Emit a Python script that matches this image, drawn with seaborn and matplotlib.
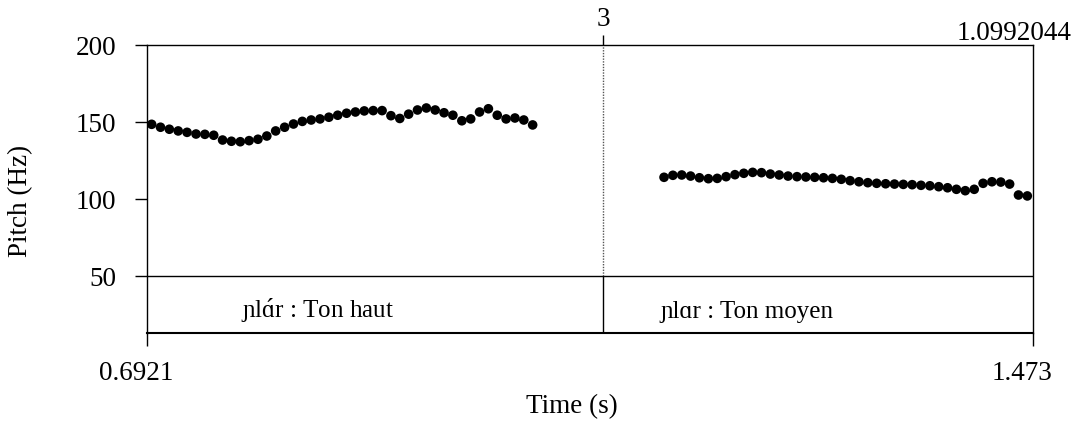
import matplotlib
matplotlib.use("Agg")
import matplotlib.pyplot as plt
import matplotlib.transforms as mtransforms
import numpy as np
import pandas as pd
import seaborn as sns

# ---- data ----
left_time = [0.6962, 0.7040, 0.7118, 0.7196, 0.7274, 0.7353, 0.7431, 0.7509, 0.7587, 0.7665,
             0.7743, 0.7821, 0.7899, 0.7977, 0.8055, 0.8134, 0.8212, 0.8290, 0.8368, 0.8446,
             0.8524, 0.8602, 0.8680, 0.8758, 0.8836, 0.8915, 0.8993, 0.9071, 0.9149, 0.9227,
             0.9305, 0.9383, 0.9461, 0.9539, 0.9617, 0.9696, 0.9774, 0.9852, 0.9930, 1.0008,
             1.0086, 1.0164, 1.0242, 1.0320]
left_pitch = [148.5, 146.6, 145.3, 144.2, 143.3, 142.2, 142.0, 141.4, 138.3, 137.5,
              137.2, 137.9, 138.8, 140.9, 144.2, 146.6, 148.7, 150.4, 151.3, 152.0,
              153.1, 154.4, 155.7, 156.5, 157.2, 157.4, 157.4, 154.1, 152.3, 155.1,
              157.8, 159.1, 157.8, 156.0, 154.4, 150.8, 152.0, 156.5, 158.6, 154.4,
              152.0, 152.6, 151.3, 148.1]
right_time = [1.1478, 1.1556, 1.1634, 1.1712, 1.1790, 1.1869, 1.1947, 1.2025, 1.2103, 1.2181,
              1.2259, 1.2337, 1.2415, 1.2493, 1.2571, 1.2650, 1.2728, 1.2806, 1.2884, 1.2962,
              1.3040, 1.3118, 1.3196, 1.3274, 1.3352, 1.3431, 1.3509, 1.3587, 1.3665, 1.3743,
              1.3821, 1.3899, 1.3977, 1.4055, 1.4133, 1.4212, 1.4290, 1.4368, 1.4446, 1.4524,
              1.4602, 1.4680]
right_pitch = [114.1, 115.4, 115.6, 114.9, 113.8, 113.2, 113.4, 114.5, 115.8, 116.7,
               117.3, 117.1, 116.2, 115.6, 114.9, 114.5, 114.3, 114.1, 113.8, 113.4,
               112.8, 111.9, 111.2, 110.6, 110.2, 109.9, 109.7, 109.5, 109.3, 108.9,
               108.6, 108.0, 107.3, 106.3, 105.4, 106.3, 110.2, 111.2, 111.0, 109.7,
               102.6, 102.0]

x_limits = [0.6921, 1.473]
x_tick_labels = ["0.6921", "1.473"]
y_ticks = [50, 100, 150, 200]
tier_floor = 50
boundary_time = 1.094
boundary_label = "3"
corner_label = "1.0992044"
tier_labels = ["ɲl$\\acute{\\mathrm{ɑ}}$r : Ton haut", "ɲlɑr : Ton moyen"]
tier_label_times = [0.7750, 1.1450]
tier_label_pitch = 22.7

# ---- figure ----
sns.set_style("ticks")
plt.rcParams["font.family"] = ["Liberation Serif", "DejaVu Serif"]
plt.rcParams["mathtext.fontset"] = "custom"
plt.rcParams["mathtext.rm"] = "Liberation Serif"
plt.rcParams["mathtext.it"] = "Liberation Serif:italic"
plt.rcParams["axes.edgecolor"] = "black"
FS = 19.5

W, H = 1081, 423
fig = plt.figure(figsize=(W / 100, H / 100), dpi=100)
ax = fig.add_axes([147 / W, 1 - 333 / H, 886 / W, 288 / H])

df = pd.DataFrame({
    "time": left_time + right_time,
    "pitch": left_pitch + right_pitch,
})
sns.scatterplot(data=df, x="time", y="pitch", color="black", s=48,
                edgecolor="none", linewidth=0, ax=ax, legend=False, zorder=3)

ax.set_xlim(x_limits)
ax.set_ylim(13.0, 200)
ax.set_xticks(x_limits, x_tick_labels)
ax.set_yticks(y_ticks)
ax.tick_params(axis="both", direction="out", length=9, width=1,
               labelsize=FS, colors="black")
ax.tick_params(axis="y", pad=13)
ax.tick_params(axis="x", pad=11)

# x tick labels sit slightly left of their ticks in the reference
shift = mtransforms.ScaledTranslation(-11 / 100, 0, fig.dpi_scale_trans)
for lab in ax.get_xticklabels():
    lab.set_transform(lab.get_transform() + shift)

for s in ax.spines.values():
    s.set_visible(True)
    s.set_linewidth(1.0)
    s.set_color("black")
ax.spines["bottom"].set_linewidth(1.5)

# tier separation and boundary
ax.axhline(tier_floor, color="black", lw=1.0, zorder=2)
ax.plot([boundary_time, boundary_time], [tier_floor, 200], color="#555555",
        lw=1.0, ls=(0, (1, 1)), zorder=2)
ax.plot([boundary_time, boundary_time], [13.0, tier_floor], color="black",
        lw=1.0, zorder=2)

# top tick at boundary
sec = ax.secondary_xaxis("top")
sec.set_xticks([boundary_time], [boundary_label])
sec.tick_params(direction="out", length=7, width=1, labelsize=FS, pad=2, colors="black")
sec.spines["top"].set_visible(False)

ax.text(0.979, 1 + 12 / 288, corner_label, transform=ax.transAxes, fontsize=FS,
        ha="center", va="center", color="black")

ax.set_xlabel("Time (s)", fontsize=FS, color="black")
ax.set_ylabel("Pitch (Hz)", fontsize=FS, color="black")
ax.xaxis.set_label_coords((572 - 147) / 886, (333 - 394) / 288)
ax.yaxis.set_label_coords((33 - 147) / 886, (333 - 201) / 288)

for lab, t in zip(tier_labels, tier_label_times):
    ax.text(t, tier_label_pitch, lab, fontsize=18, ha="left", va="baseline",
            color="black")

fig.savefig("out.png", dpi=100)
